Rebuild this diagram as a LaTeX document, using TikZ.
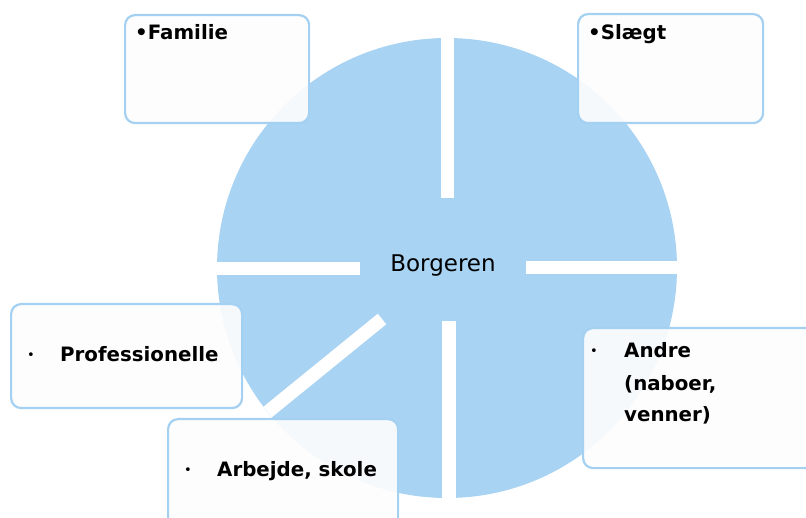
\documentclass[tikz,border=0pt]{standalone}
\usepackage{fontspec}
\setmainfont{DejaVu Sans}
\definecolor{circblue}{RGB}{169,211,243}
\definecolor{boxline}{RGB}{164,208,242}
\definecolor{boxfill}{RGB}{253,253,253}
\begin{document}
\begin{tikzpicture}[x=1pt,y=-1pt,
  box/.style={draw=boxline, line width=2.2pt, fill=boxfill, fill opacity=0.92,
    rounded corners=10pt, anchor=north west, inner sep=0pt},
  lbl/.style={font=\fontsize{19.8}{32}\selectfont\bfseries, anchor=base west, inner sep=0pt, align=left},
  bul/.style={font=\fontsize{13}{14}\selectfont, anchor=base west, inner sep=0pt},
  gap/.style={draw=white, line width=13.5pt}]
\useasboundingbox (0,0) rectangle (806,518);
% circle
\fill[circblue] (447,268) circle (230pt);
\coordinate (c) at (447,268);
\begin{scope}
  \clip (447,268) circle (230pt);
  \draw[gap] (447.5,198) -- (447.5,20);
  \draw[gap] (360,268.5) -- (200,268.5);
  \draw[gap] (526,267.5) -- (700,267.5);
  \draw[gap] (449,321) -- (449,520);
  \draw[gap] (382,319) -- (232,441);
\end{scope}
\node[font=\fontsize{23}{26}\selectfont, anchor=base, inner sep=0pt] (borg) at (443,272) {Borgeren};
% boxes
\node[box, minimum width=184pt, minimum height=108pt] (fam) at (124,14) {};
\node[box, minimum width=185pt, minimum height=109pt] (sla) at (577,13) {};
\node[box, minimum width=231pt, minimum height=104pt] (pro) at (10,303) {};
\node[box, minimum width=230pt, minimum height=110pt] (arb) at (167,418) {};
\node[box, minimum width=240pt, minimum height=140pt] (and) at (582,327) {};
% texts
\node[lbl] (famt) at (135,40) {•Familie};
\node[lbl] (slat) at (588,40) {•Slægt};
\node[bul] (prob) at (27,360) {•};
\node[lbl] (prot) at (60,362) {Professionelle};
\node[bul] (arbb) at (184,474) {•};
\node[lbl] (arbt) at (217,476) {Arbejde, skole};
\node[bul] (andb) at (590,356) {•};
\node[lbl] (andt) at (624,422) {Andre\\(naboer,\\venner)};
\end{tikzpicture}
\end{document}
